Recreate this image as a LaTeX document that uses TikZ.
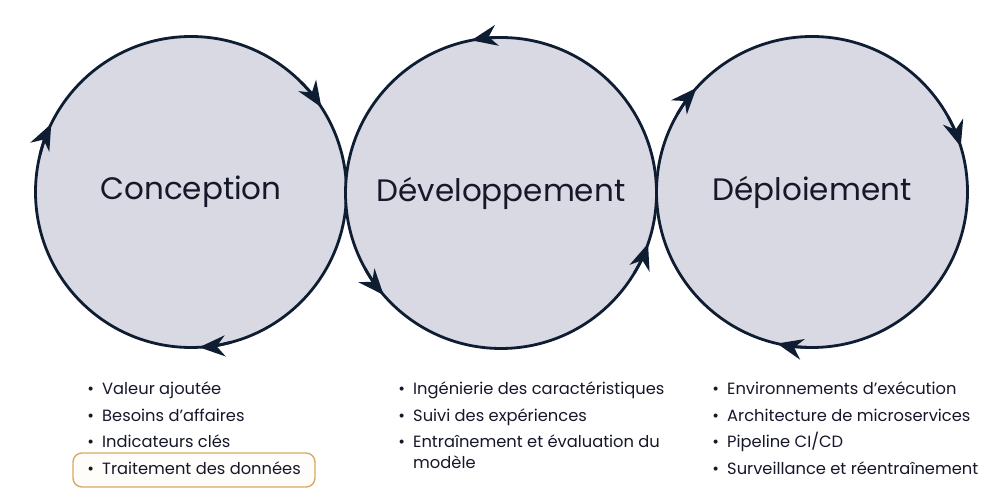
\documentclass[tikz,border=0pt]{standalone}
\usepackage{fontspec}
\setmainfont{Poppins}
\usepackage{xcolor}
\usetikzlibrary{arrows.meta}
\definecolor{disc}{HTML}{D8D9E3}
\definecolor{navy}{HTML}{0F1D33}
\definecolor{ink}{HTML}{16182A}
\definecolor{gold}{HTML}{D6AA66}
\definecolor{cream}{HTML}{FFFDF9}
\tikzset{
  ring/.style={circle, draw=navy, fill=disc, line width=2.8pt, minimum size=311pt,
    inner sep=0pt, outer sep=0pt, text=ink, font=\fontsize{31}{36}\selectfont},
  tip/.style={draw=navy, line width=2.8pt, -{Stealth[length=26pt, width=21pt]}},
  point/.style={anchor=base west, inner sep=0pt, align=left, text=ink,
    font=\fontsize{16.3}{20.5}\selectfont},
  hl/.style={draw=gold, fill=cream, line width=1.4pt, rounded corners=9pt},
}

\begin{document}
\begin{tikzpicture}[x=1pt, y=1pt]
  \fill[white] (0,0) rectangle (1000,500);
  \useasboundingbox (0,0) rectangle (1000,500);

  % the three stages
  \node[ring] (conc) at (191,308) {Conception};
  \node[ring] (dev)  at (501,307) {Développement};
  \node[ring] (depl) at (812,308) {Déploiement};

  % clockwise arrows on the first ring
  \draw[tip] (conc.45)  arc[start angle=45,  end angle=33,  radius=155.5pt];
  \draw[tip] (conc.166) arc[start angle=166, end angle=154, radius=155.5pt];
  \draw[tip] (conc.285) arc[start angle=285, end angle=273, radius=155.5pt];

  % counter-clockwise arrows on the middle ring
  \draw[tip] (dev.89)  arc[start angle=89,  end angle=101, radius=155.5pt];
  \draw[tip] (dev.209) arc[start angle=209, end angle=221, radius=155.5pt];
  \draw[tip] (dev.329) arc[start angle=329, end angle=341, radius=155.5pt];

  % clockwise arrows on the last ring
  \draw[tip] (depl.150) arc[start angle=150, end angle=138, radius=155.5pt];
  \draw[tip] (depl.29)  arc[start angle=29,  end angle=17,  radius=155.5pt];
  \draw[tip] (depl.269) arc[start angle=269, end angle=257, radius=155.5pt];

  % highlighted item
  \draw[hl] (73,13) rectangle (315,47);

  % bullet lists
  \foreach \txt [count=\i] in {Valeur ajoutée, Besoins d’affaires,
      Indicateurs clés, Traitement des données}
    \node[point] (conc\i) at (102,105-26.5*\i+26.5) {\llap{•\hspace{8pt}}\txt};
  \foreach \txt [count=\i] in {Ingénierie des caractéristiques,
      Suivi des expériences}
    \node[point] (dev\i) at (413,105-26.5*\i+26.5) {\llap{•\hspace{8pt}}\txt};
  \node[point] (dev3) at (413,31.5)
    {\llap{•\hspace{8pt}}Entraînement et évaluation du\\modèle};
  \foreach \txt [count=\i] in {Environnements d’exécution,
      Architecture de microservices, Pipeline CI/CD,
      Surveillance et réentraînement}
    \node[point] (depl\i) at (727,105-26.5*\i+26.5) {\llap{•\hspace{8pt}}\txt};
\end{tikzpicture}
\end{document}
